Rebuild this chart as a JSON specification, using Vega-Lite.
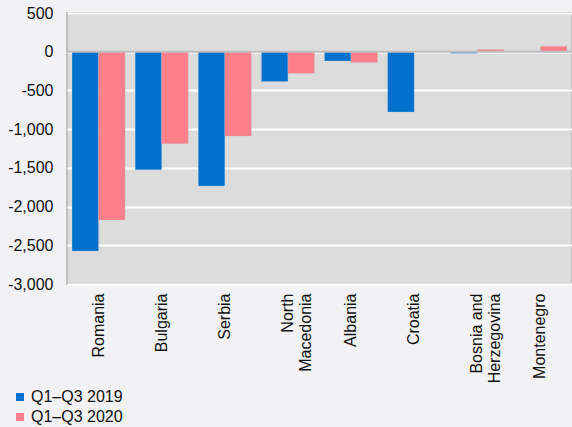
{
  "$schema": "https://vega.github.io/schema/vega-lite/v6.json",
  "autosize": {"type": "none"},
  "width": 505,
  "height": 271,
  "padding": {"left": 67, "top": 13, "right": 0, "bottom": 143},
  "background": "#F2F2F4",
  "config": {
    "font": "Liberation Sans",
    "view": {"fill": "#DCDCDC", "stroke": "#BEBEBE", "strokeWidth": 2},
    "axisY": {
      "title": null, "domain": false, "ticks": false,
      "labelFontSize": 16, "labelColor": "#111111", "labelPadding": 14,
      "labelOverlap": false, "gridColor": "#FFFFFF", "gridWidth": 2
    }
  },
  "data": {
    "values": [
      {"country": "Romania", "period": "Q1–Q3 2019", "value": -2575},
      {"country": "Romania", "period": "Q1–Q3 2020", "value": -2175},
      {"country": "Bulgaria", "period": "Q1–Q3 2019", "value": -1525},
      {"country": "Bulgaria", "period": "Q1–Q3 2020", "value": -1190},
      {"country": "Serbia", "period": "Q1–Q3 2019", "value": -1735},
      {"country": "Serbia", "period": "Q1–Q3 2020", "value": -1090},
      {"country": "North Macedonia", "period": "Q1–Q3 2019", "value": -385},
      {"country": "North Macedonia", "period": "Q1–Q3 2020", "value": -280},
      {"country": "Albania", "period": "Q1–Q3 2019", "value": -120},
      {"country": "Albania", "period": "Q1–Q3 2020", "value": -140},
      {"country": "Croatia", "period": "Q1–Q3 2019", "value": -780},
      {"country": "Bosnia and Herzegovina", "period": "Q1–Q3 2019", "value": -20},
      {"country": "Bosnia and Herzegovina", "period": "Q1–Q3 2020", "value": 30},
      {"country": "Montenegro", "period": "Q1–Q3 2020", "value": 70}
    ]
  },
  "layer": [
    {
      "mark": {"type": "bar", "stroke": "#B8C4D8", "strokeWidth": 0.5, "strokeOpacity": 0.6},
      "encoding": {
        "x": {
          "field": "country", "type": "nominal", "sort": null,
          "scale": {"paddingInner": 0.16, "paddingOuter": 0.08},
          "axis": {
            "title": null, "domain": false, "ticks": false,
            "labelAngle": -90, "labelAlign": "right", "labelBaseline": "middle",
            "labelPadding": 9, "labelFontSize": 16, "labelColor": "#111111",
            "labelLimit": 200, "labelLineHeight": 18, "labelOverlap": false,
            "labelExpr": "datum.value == 'North Macedonia' ? ['North', 'Macedonia'] : datum.value == 'Bosnia and Herzegovina' ? ['Bosnia and', 'Herzegovina'] : datum.value"
          }
        },
        "xOffset": {"field": "period", "type": "nominal", "scale": {"paddingInner": 0, "paddingOuter": 0}},
        "y": {
          "field": "value", "type": "quantitative",
          "scale": {"domain": [-3000, 500], "nice": false},
          "axis": {
            "values": [-3000, -2500, -2000, -1500, -1000, -500, 0, 500],
            "labelExpr": "datum.value < 0 ? '-' + format(-datum.value, ',') : format(datum.value, ',')"
          }
        },
        "color": {
          "field": "period", "type": "nominal",
          "scale": {"domain": ["Q1–Q3 2019", "Q1–Q3 2020"], "range": ["#0072CE", "#FF7F8A"]},
          "legend": {
            "title": null, "orient": "none", "legendX": -55, "legendY": 376,
            "symbolType": "square", "symbolSize": 64, "symbolStrokeWidth": 0,
            "labelFontSize": 16, "labelColor": "#111111", "labelOffset": 3,
            "rowPadding": 4, "padding": 0
          }
        }
      }
    },
    {
      "data": {"values": [{"zero": 0}]},
      "mark": {"type": "rule", "color": "#BEBEBE", "strokeWidth": 2},
      "encoding": {
        "y": {
          "field": "zero", "type": "quantitative",
          "axis": {
            "values": [-3000, -2500, -2000, -1500, -1000, -500, 0, 500],
            "labelExpr": "datum.value < 0 ? '-' + format(-datum.value, ',') : format(datum.value, ',')"
          }
        }
      }
    }
  ]
}
